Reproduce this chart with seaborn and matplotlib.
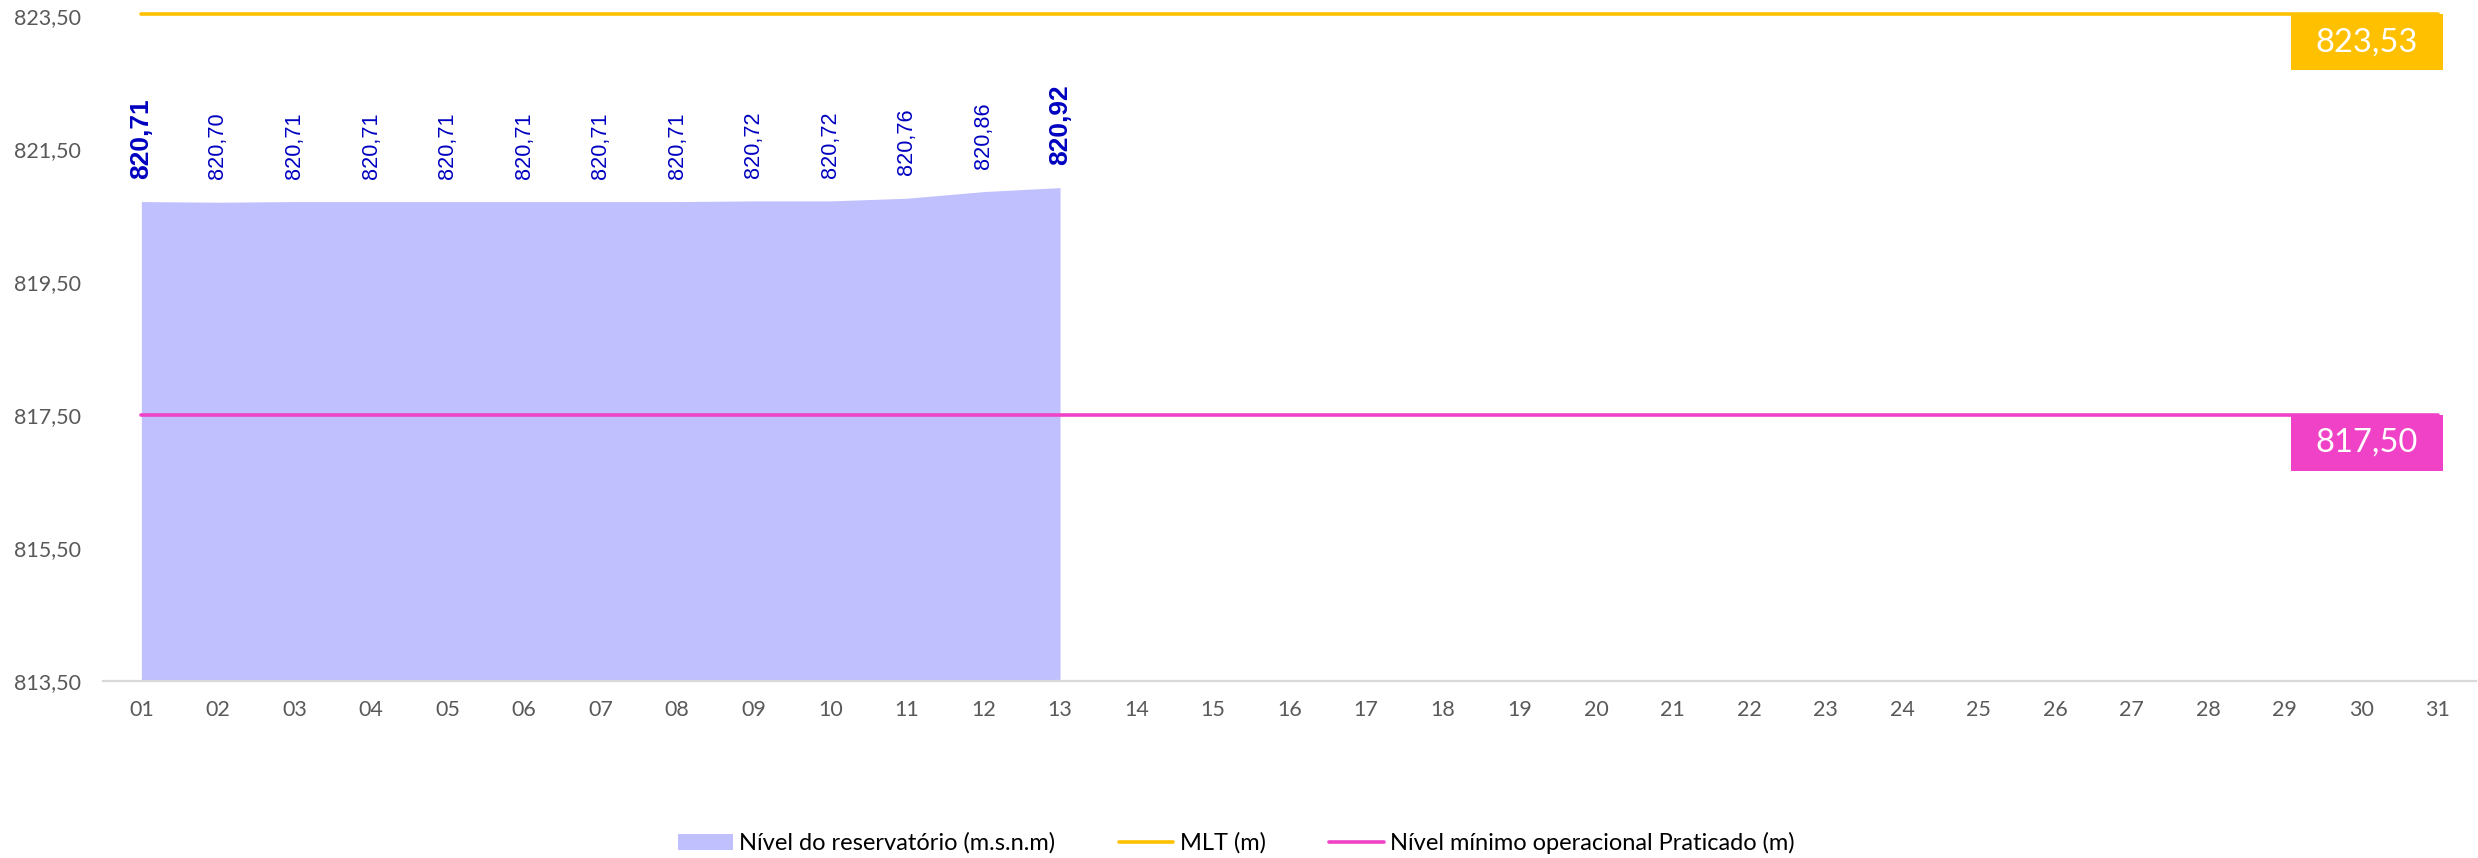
import numpy as np
import pandas as pd
import matplotlib
matplotlib.use("Agg")
import matplotlib.pyplot as plt
import seaborn as sns
from matplotlib.patches import Patch, Rectangle
from matplotlib.lines import Line2D
from matplotlib.transforms import ScaledTranslation

# daily data (day of month)
days = [f"{d:02d}" for d in range(1, 32)]
nivel = [820.71, 820.70, 820.71, 820.71, 820.71, 820.71, 820.71,
         820.71, 820.72, 820.72, 820.76, 820.86, 820.92]
mlt = 823.53
nivel_min = 817.50
y_ticks = [813.50, 815.50, 817.50, 819.50, 821.50, 823.50]

AREA_COLOR = "#C0C0FF"
MLT_COLOR = "#FFC000"
MIN_COLOR = "#F042C6"
LABEL_BLUE = "#0000C0"
TICK_GRAY = "#595959"

sns.set_theme(style="white")
plt.rcParams["font.family"] = ["Lato", "DejaVu Sans"]

df_lines = pd.DataFrame({
    "x": np.arange(len(days)),
    "MLT (m)": [mlt] * len(days),
    "Nível mínimo operacional Praticado (m)": [nivel_min] * len(days),
})
df_area = pd.DataFrame({"x": np.arange(len(nivel)), "nivel": nivel})

fig = plt.figure(figsize=(24.78, 8.58), dpi=100)
ax = fig.add_axes([0.0416, 0.2063, 0.9577, 0.775])

ax.set_xlim(-0.5, len(days) - 0.5)
ax.set_ylim(y_ticks[0], y_ticks[-1])

# area for reservoir level
ax.fill_between(df_area["x"], df_area["nivel"], ax.get_ylim()[0],
                color=AREA_COLOR, linewidth=0, zorder=1)

sns.lineplot(data=df_lines, x="x", y="MLT (m)", color=MLT_COLOR,
             linewidth=2.6, ax=ax, zorder=3, clip_on=False)
sns.lineplot(data=df_lines, x="x", y="Nível mínimo operacional Praticado (m)",
             color=MIN_COLOR, linewidth=2.6, ax=ax, zorder=3, clip_on=False)

# data labels above the area
for i, v in enumerate(nivel):
    bold = i in (0, len(nivel) - 1)
    ax.annotate(f"{v:.2f}".replace(".", ","), xy=(i, v), xytext=(0, 16.5),
                textcoords="offset points", ha="center", va="bottom",
                rotation=90, color=LABEL_BLUE,
                fontsize=19 if bold else 15.6,
                fontweight="bold" if bold else "normal",
                family=["Liberation Sans", "DejaVu Sans"], zorder=4)

# value boxes at the right end of each reference line
for val, col in ((mlt, MLT_COLOR), (nivel_min, MIN_COLOR)):
    tr = fig.dpi_scale_trans + ScaledTranslation(len(days) - 1, val, ax.transData)
    ax.add_patch(Rectangle((-1.47, -0.56), 1.52, 0.56, transform=tr,
                           facecolor=col, edgecolor="none", clip_on=False, zorder=5))
    ax.text(-0.71, -0.28, f"{val:.2f}".replace(".", ","), transform=tr,
            ha="center", va="center", color="white", fontsize=23.5, zorder=6)

ax.set_xticks(np.arange(len(days)))
ax.set_xticklabels(days)
ax.set_yticks(y_ticks)
ax.set_yticklabels([f"{t:.2f}".replace(".", ",") for t in y_ticks])
ax.tick_params(axis="x", length=0, pad=14, labelsize=15.5, labelcolor=TICK_GRAY)
ax.tick_params(axis="y", length=0, pad=16, labelsize=15.5, labelcolor=TICK_GRAY)
ax.set_xlabel("")
ax.set_ylabel("")
ax.grid(False)
for side in ("top", "left", "right"):
    ax.spines[side].set_visible(False)
ax.spines["bottom"].set_color("#D9D9D9")
ax.spines["bottom"].set_linewidth(1.6)

handles = [
    Patch(facecolor=AREA_COLOR, edgecolor="none", label="Nível do reservatório (m.s.n.m)"),
    Line2D([], [], color=MLT_COLOR, linewidth=2.6, label="MLT (m)"),
    Line2D([], [], color=MIN_COLOR, linewidth=2.6, label="Nível mínimo operacional Praticado (m)"),
]
fig.legend(handles=handles, loc="center", bbox_to_anchor=(0.499, 0.0175), ncol=3,
           frameon=False, fontsize=17, handlelength=2.3, handletextpad=0.27,
           columnspacing=2.7, labelcolor="black")

fig.savefig("out.png", dpi=100)
